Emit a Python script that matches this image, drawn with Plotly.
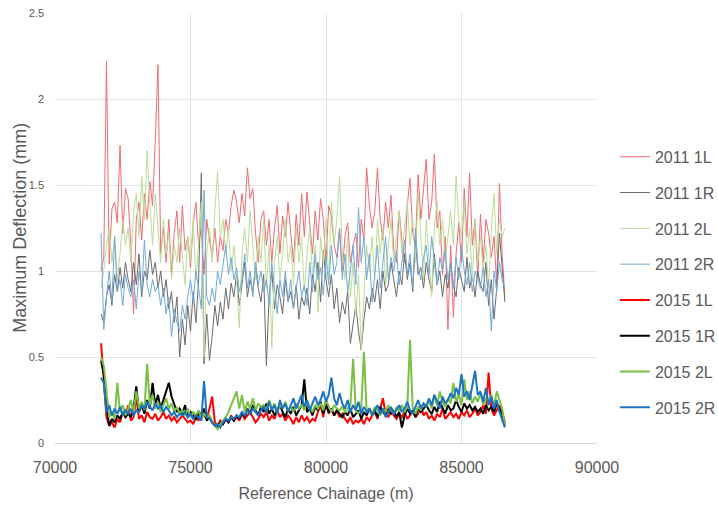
import plotly.graph_objects as go

# Chainage stations (m), 100 m apart
start_chainage = 71700
step = 100
n_points = 150
chainage = [start_chainage + step * i for i in range(n_points)]

# Maximum deflection (mm) per survey and lane
d2011_1L = [
    1.00, 1.08, 2.22, 1.04, 1.36, 1.40, 1.28, 1.73, 1.22, 1.48,
    1.42, 1.15, 0.75, 1.30, 1.40, 1.18, 1.45, 1.30, 1.52, 1.38,
    1.76, 2.20, 1.10, 1.25, 1.05, 1.30, 0.98, 1.22, 1.35, 1.05,
    1.38, 1.12, 1.20, 1.02, 1.28, 1.40, 1.15, 1.25, 0.98, 1.30,
    1.18, 1.08, 1.25, 1.05, 1.20, 1.12, 1.30, 1.22, 1.38, 1.47,
    1.40, 1.28, 1.45, 1.32, 1.60, 1.42, 1.48, 1.22, 1.05, 1.30,
    1.35, 1.15, 1.30, 1.05, 1.25, 1.38, 1.10, 1.32, 1.20, 1.40,
    1.22, 1.05, 1.33, 1.15, 1.45, 1.20, 1.46, 1.28, 1.10, 1.35,
    1.18, 1.42, 1.30, 1.05, 1.38, 1.32, 1.15, 1.08, 1.25, 1.00,
    1.20, 1.28, 1.05, 1.15, 1.22, 1.02, 1.30, 1.18, 1.60, 1.38,
    1.25, 1.35, 1.60, 1.30, 1.18, 1.40, 1.25, 1.44, 1.12, 1.05,
    1.35, 1.18, 1.05, 1.38, 1.54, 1.22, 1.15, 1.56, 1.30, 1.48,
    1.65, 1.30, 1.40, 1.68, 1.25, 1.35, 0.98, 1.20, 0.66, 1.15,
    0.73, 1.10, 1.28, 1.05, 1.48, 1.20, 1.57, 1.15, 1.30, 0.95,
    1.33, 1.05, 1.30, 1.22, 1.08, 1.20, 0.92, 1.51, 1.10, 0.85,
]
d2011_1R = [
    0.75, 0.70, 0.85, 0.92, 0.80, 0.98, 0.88, 1.02, 0.90, 1.05,
    0.95, 0.88, 1.05, 0.92, 1.10, 0.85, 1.00, 0.95, 1.12, 0.98,
    1.05, 0.90, 1.00, 0.85, 0.95, 0.78, 0.88, 0.70, 0.85, 0.50,
    0.72, 0.57, 0.80, 0.65, 0.88, 0.70, 0.95, 1.57, 0.46, 0.75,
    0.48, 0.62, 0.80, 0.68, 0.82, 0.72, 0.90, 0.78, 0.93, 0.85,
    0.98, 0.80, 0.92, 1.05, 0.85, 0.95, 0.88, 1.02, 0.90, 0.82,
    0.98, 0.45, 0.85, 1.00, 0.78, 0.92, 0.85, 0.75, 0.95, 0.82,
    0.88, 0.78, 0.92, 0.72, 0.85, 0.80, 0.90, 0.75, 0.98, 0.88,
    1.05, 0.82, 1.12, 0.95, 0.85, 0.98, 0.78, 0.90, 0.70, 0.82,
    0.75, 0.88, 0.58, 0.70, 0.80, 0.65, 0.54, 0.72, 0.85, 0.78,
    0.90, 0.82, 0.95, 0.78, 1.00, 0.88, 0.92, 1.05, 0.95, 0.85,
    1.00, 0.92, 1.10, 0.95, 1.05, 0.88, 1.18, 0.98, 1.02, 0.90,
    1.05, 0.95, 0.88, 1.10, 0.92, 1.00, 0.85, 0.98, 0.90, 1.05,
    0.92, 0.85, 1.02, 0.95, 0.88, 1.08, 0.90, 0.98, 0.85, 1.00,
    0.92, 0.88, 1.05, 0.80, 0.95, 0.72, 0.90, 1.22, 1.00, 0.82,
]
d2011_2L = [
    0.90, 1.00, 1.15, 1.25, 1.05, 1.20, 0.95, 1.10, 1.30, 1.15,
    1.25, 1.05, 1.35, 1.45, 1.20, 1.55, 1.30, 1.70, 1.40, 1.15,
    1.45, 1.25, 1.05, 1.30, 1.10, 1.22, 0.95, 1.15, 1.05, 1.25,
    1.10, 0.92, 1.20, 1.05, 1.30, 0.95, 1.15, 1.40, 0.50, 1.10,
    1.25, 1.05, 1.35, 1.58, 1.20, 1.30, 1.10, 1.25, 1.00, 1.15,
    0.95, 0.67, 1.10, 1.25, 1.05, 1.35, 1.15, 0.95, 1.20, 1.05,
    1.30, 0.90, 1.15, 0.55, 1.05, 1.20, 0.95, 1.10, 1.30, 1.05,
    1.15, 0.92, 1.25, 1.05, 1.20, 0.88, 1.10, 1.25, 0.98, 1.15,
    0.76, 1.20, 1.05, 1.30, 0.95, 1.40, 1.15, 1.30, 1.55, 1.10,
    0.95, 1.20, 0.85, 1.05, 0.75, 0.98, 0.54, 0.85, 1.15, 1.00,
    1.20, 0.95, 1.30, 1.10, 1.25, 0.92, 1.15, 1.30, 1.05, 1.20,
    1.35, 1.10, 1.25, 1.40, 1.15, 1.30, 1.05, 1.45, 1.20, 0.95,
    1.30, 1.10, 0.85, 1.25, 1.40, 1.15, 1.30, 1.05, 1.20, 1.35,
    1.15, 1.55, 1.30, 1.20, 1.40, 1.10, 1.25, 0.95, 1.30, 1.05,
    1.20, 1.00, 1.15, 0.90, 1.25, 1.45, 1.10, 1.30, 1.20, 1.25,
]
d2011_2R = [
    1.22, 0.66, 0.85, 1.00, 0.82, 1.20, 0.88, 0.95, 0.80, 0.98,
    0.90, 0.85, 0.95, 0.78, 1.00, 0.88, 1.18, 0.92, 0.85, 0.95,
    0.88, 0.92, 0.80, 0.90, 0.75, 0.85, 0.62, 0.78, 0.70, 0.65,
    0.80, 0.72, 0.85, 0.95, 0.82, 1.00, 0.90, 0.78, 1.47, 0.85,
    0.80, 0.90, 0.82, 1.00, 0.92, 1.05, 1.15, 0.98, 1.08, 0.95,
    1.02, 0.88, 0.95, 1.10, 0.90, 1.00, 0.85, 1.05, 0.92, 1.00,
    0.88, 0.95, 0.80, 1.05, 0.90, 0.75, 0.95, 0.85, 1.00, 0.82,
    0.95, 0.78, 0.90, 1.00, 0.85, 0.92, 0.80, 1.05, 0.88, 1.10,
    0.95, 1.02, 0.86, 1.08, 0.92, 1.15, 0.98, 1.05, 1.24, 0.95,
    1.10, 0.88, 1.00, 1.15, 0.92, 1.37, 1.05, 1.20, 0.95, 1.10,
    0.82, 1.00, 1.15, 0.90, 1.05, 1.20, 0.95, 1.08, 1.00, 1.12,
    0.92, 1.05, 1.18, 0.98, 1.10, 0.90, 1.25, 1.02, 0.95, 1.08,
    1.15, 0.98, 1.20, 1.05, 0.92, 1.08, 1.00, 1.12, 0.95, 1.05,
    0.90, 1.08, 0.95, 1.15, 1.00, 0.92, 1.05, 0.88, 1.00, 0.95,
    0.90, 1.02, 0.85, 0.95, 0.65, 1.00, 0.88, 1.05, 0.95, 0.90,
]
d2015_1L = [
    0.58, 0.35, 0.15, 0.10, 0.12, 0.09, 0.14, 0.12, 0.18, 0.15,
    0.22, 0.13, 0.15, 0.27, 0.14, 0.16, 0.12, 0.18, 0.15, 0.14,
    0.17, 0.13, 0.15, 0.18, 0.14, 0.16, 0.13, 0.15, 0.12, 0.14,
    0.16, 0.14, 0.12, 0.13, 0.11, 0.15, 0.13, 0.18, 0.16, 0.14,
    0.20, 0.27, 0.12, 0.10, 0.13, 0.11, 0.14, 0.12, 0.16, 0.13,
    0.15, 0.13, 0.17, 0.14, 0.16, 0.18, 0.15, 0.12, 0.14, 0.17,
    0.15, 0.18, 0.13, 0.16, 0.14, 0.19, 0.15, 0.17, 0.13, 0.16,
    0.14, 0.11, 0.15, 0.12, 0.16, 0.13, 0.15, 0.12, 0.14, 0.13,
    0.18, 0.22, 0.15, 0.25, 0.17, 0.20, 0.16, 0.19, 0.15, 0.17,
    0.14, 0.12, 0.15, 0.11, 0.13, 0.12, 0.14, 0.11, 0.15, 0.13,
    0.16, 0.18, 0.14, 0.20, 0.26, 0.17, 0.15, 0.19, 0.16, 0.14,
    0.17, 0.15, 0.18, 0.14, 0.16, 0.19, 0.15, 0.17, 0.22, 0.16,
    0.18, 0.14, 0.16, 0.13, 0.17, 0.15, 0.20, 0.14, 0.16, 0.18,
    0.15, 0.17, 0.14, 0.18, 0.16, 0.19, 0.15, 0.17, 0.20, 0.16,
    0.18, 0.22, 0.17, 0.41, 0.20, 0.16, 0.19, 0.22, 0.18, 0.12,
]
d2015_1R = [
    0.48, 0.40, 0.22, 0.10, 0.14, 0.12, 0.16, 0.14, 0.18, 0.15,
    0.17, 0.15, 0.20, 0.33, 0.18, 0.22, 0.17, 0.25, 0.20, 0.35,
    0.22, 0.28, 0.20, 0.25, 0.30, 0.35, 0.27, 0.22, 0.18, 0.20,
    0.17, 0.22, 0.15, 0.18, 0.16, 0.14, 0.17, 0.15, 0.20, 0.13,
    0.15, 0.12, 0.10, 0.09, 0.12, 0.11, 0.14, 0.12, 0.15, 0.13,
    0.16, 0.14, 0.18, 0.15, 0.20, 0.17, 0.22, 0.19, 0.16, 0.21,
    0.18, 0.23, 0.17, 0.20, 0.16, 0.19, 0.22, 0.18, 0.15, 0.20,
    0.17, 0.21, 0.16, 0.19, 0.22, 0.37, 0.18, 0.20, 0.16, 0.21,
    0.19, 0.24, 0.17, 0.22, 0.18, 0.20, 0.16, 0.19, 0.17, 0.15,
    0.18, 0.16, 0.20, 0.15, 0.17, 0.19, 0.14, 0.18, 0.16, 0.20,
    0.17, 0.19, 0.15, 0.21, 0.18, 0.16, 0.20, 0.17, 0.19, 0.15,
    0.18, 0.09, 0.16, 0.20, 0.17, 0.19, 0.15, 0.21, 0.18, 0.20,
    0.22, 0.19, 0.17, 0.21, 0.18, 0.24, 0.20, 0.17, 0.22, 0.19,
    0.20, 0.25, 0.21, 0.18, 0.23, 0.20, 0.22, 0.19, 0.21, 0.18,
    0.20, 0.17, 0.22, 0.19, 0.21, 0.18, 0.23, 0.20, 0.17, 0.10,
]
d2015_2L = [
    0.50, 0.45, 0.30, 0.15, 0.18, 0.14, 0.35, 0.18, 0.22, 0.16,
    0.20, 0.25, 0.18, 0.30, 0.20, 0.24, 0.19, 0.46, 0.22, 0.28,
    0.20, 0.24, 0.18, 0.22, 0.26, 0.20, 0.23, 0.18, 0.21, 0.17,
    0.19, 0.16, 0.20, 0.15, 0.18, 0.16, 0.19, 0.14, 0.17, 0.15,
    0.16, 0.13, 0.10, 0.08, 0.11, 0.13, 0.15, 0.18, 0.22, 0.25,
    0.30, 0.20, 0.28, 0.18, 0.24, 0.20, 0.26, 0.19, 0.23, 0.21,
    0.22, 0.19, 0.25, 0.20, 0.23, 0.18, 0.22, 0.20, 0.24, 0.19,
    0.21, 0.18, 0.23, 0.20, 0.22, 0.19, 0.24, 0.21, 0.18, 0.22,
    0.20, 0.23, 0.19, 0.25, 0.21, 0.18, 0.22, 0.20, 0.19, 0.21,
    0.18, 0.20, 0.22, 0.49, 0.19, 0.17, 0.20, 0.53, 0.18, 0.20,
    0.17, 0.21, 0.19, 0.16, 0.20, 0.18, 0.22, 0.19, 0.17, 0.21,
    0.19, 0.22, 0.18, 0.21, 0.60, 0.20, 0.17, 0.21, 0.19, 0.23,
    0.21, 0.25, 0.20, 0.28, 0.22, 0.30, 0.24, 0.21, 0.26, 0.23,
    0.35, 0.24, 0.28, 0.22, 0.37, 0.25, 0.30, 0.23, 0.27, 0.24,
    0.29, 0.22, 0.26, 0.24, 0.28, 0.21, 0.30, 0.25, 0.20, 0.10,
]
d2015_2R = [
    0.38, 0.35, 0.18, 0.22, 0.16, 0.20, 0.17, 0.21, 0.16, 0.19,
    0.17, 0.20, 0.16, 0.19, 0.18, 0.22, 0.20, 0.24, 0.21, 0.19,
    0.23, 0.20, 0.22, 0.18, 0.21, 0.19, 0.16, 0.18, 0.15, 0.17,
    0.16, 0.18, 0.15, 0.17, 0.14, 0.16, 0.15, 0.13, 0.36, 0.15,
    0.14, 0.12, 0.10, 0.11, 0.09, 0.12, 0.14, 0.13, 0.15, 0.14,
    0.16, 0.15, 0.18, 0.16, 0.19, 0.17, 0.20, 0.18, 0.16, 0.19,
    0.21, 0.18, 0.24, 0.19, 0.22, 0.17, 0.25, 0.20, 0.23, 0.18,
    0.22, 0.26, 0.20, 0.24, 0.28, 0.21, 0.25, 0.19, 0.23, 0.27,
    0.22, 0.25, 0.30, 0.24, 0.28, 0.38, 0.26, 0.22, 0.29, 0.23,
    0.20, 0.25, 0.18, 0.22, 0.19, 0.24, 0.17, 0.21, 0.18, 0.20,
    0.16, 0.19, 0.22, 0.17, 0.20, 0.15, 0.18, 0.21, 0.17, 0.19,
    0.22, 0.18, 0.20, 0.24, 0.19, 0.17, 0.21, 0.25, 0.20, 0.23,
    0.21, 0.26, 0.22, 0.28, 0.24, 0.20, 0.27, 0.23, 0.25, 0.29,
    0.26, 0.32, 0.28, 0.40, 0.27, 0.30, 0.25, 0.34, 0.42, 0.28,
    0.30, 0.24, 0.32, 0.22, 0.27, 0.20, 0.25, 0.18, 0.14, 0.09,
]

series_names = ["2011 1L", "2011 1R", "2011 2L", "2011 2R",
                "2015 1L", "2015 1R", "2015 2L", "2015 2R"]
series_values = [d2011_1L, d2011_1R, d2011_2L, d2011_2R,
                 d2015_1L, d2015_1R, d2015_2L, d2015_2R]
series_colors = ["#ef6b72", "#6b6b6b", "#bcdc98", "#72a9d9",
                 "#ff0000", "#000000", "#7ac143", "#1c73c4"]
series_widths = [1, 1, 1, 1, 2, 2, 2, 2]

x_ticks = [70000, 75000, 80000, 85000, 90000]
y_ticks = [0, 0.5, 1, 1.5, 2, 2.5]
y_tick_text = ["0", "0.5", "1", "1.5", "2", "2.5"]

FONT = "Arial, Liberation Sans, sans-serif"
TEXT_GREY = "#595959"
GRID = "#e3e3e3"

fig = go.Figure()
for name, vals, col, w in zip(series_names, series_values, series_colors, series_widths):
    fig.add_trace(go.Scatter(
        x=chainage, y=vals, mode="lines", name=name, legendgroup=name,
        line=dict(color=col, width=w),
    ))

# Vertical axis title placed as a rotated annotation left of the tick labels
fig.add_annotation(
    text="Maximum Deflection (mm)", textangle=-90,
    xref="paper", yref="paper", x=-0.065, y=0.5,
    xanchor="center", yanchor="middle", showarrow=False,
    font=dict(size=18, color=TEXT_GREY, family=FONT),
)

fig.update_layout(
    width=718, height=505,
    margin=dict(l=55, r=121, t=13, b=62, autoexpand=False),
    paper_bgcolor="white", plot_bgcolor="white",
    font=dict(family=FONT, color=TEXT_GREY),
    showlegend=True,
    legend=dict(
        x=1.033, xanchor="left", y=0.705, yanchor="top",
        font=dict(size=16, color=TEXT_GREY, family=FONT),
        traceorder="grouped", tracegroupgap=12,
        itemwidth=30, bgcolor="rgba(0,0,0,0)",
    ),
    xaxis=dict(
        range=[70000, 90000], tickvals=x_ticks,
        ticktext=[str(v) for v in x_ticks],
        showgrid=True, gridcolor=GRID, gridwidth=1,
        zeroline=False, showline=True, linecolor="#d9d9d9", linewidth=1,
        tickfont=dict(size=16, color=TEXT_GREY), ticks="",
        ticklabelstandoff=10,
        title=dict(text="Reference Chainage (m)", font=dict(size=16, color=TEXT_GREY),
                   standoff=12),
    ),
    yaxis=dict(
        range=[0, 2.5], tickvals=y_ticks, ticktext=y_tick_text,
        showgrid=True, gridcolor=GRID, gridwidth=1,
        zeroline=False, showline=False,
        tickfont=dict(size=11, color=TEXT_GREY), ticks="",
        ticklabelstandoff=10,
    ),
)

fig.write_html("out.html")
